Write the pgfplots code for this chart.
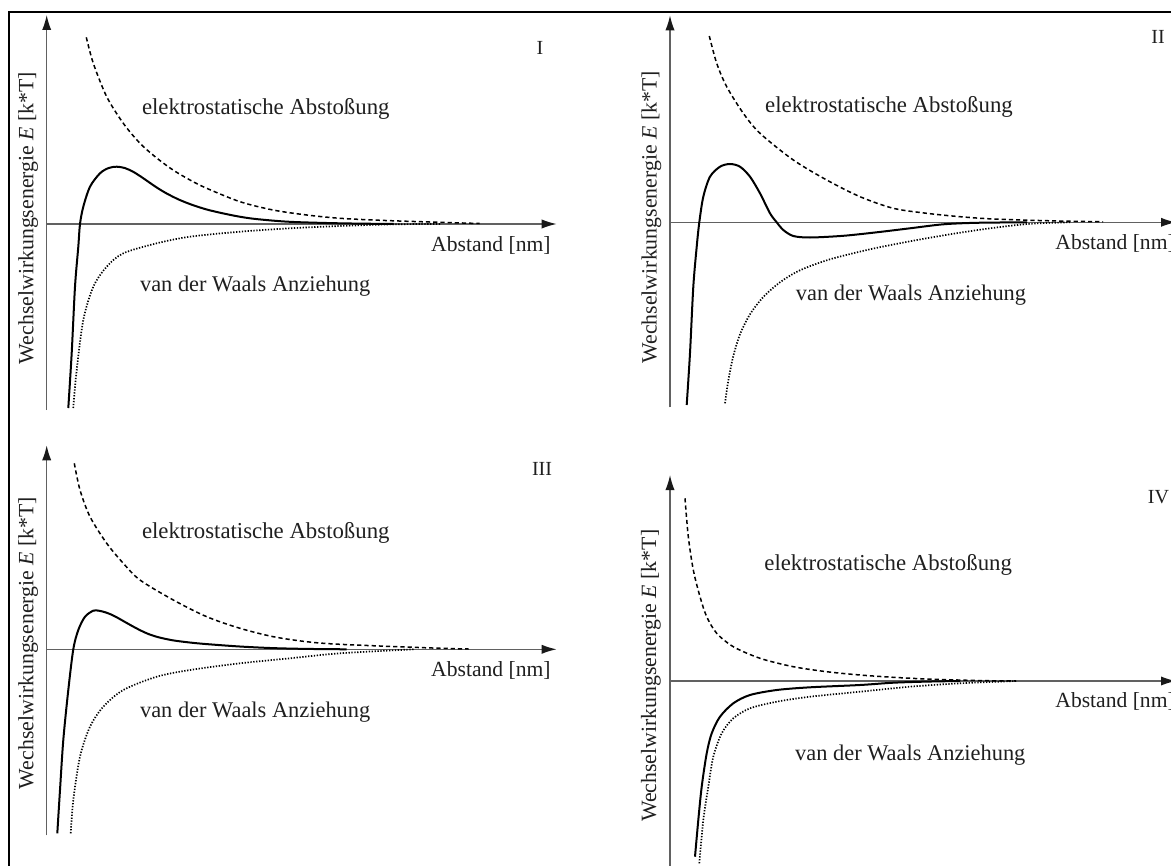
\documentclass[border=0pt]{standalone}
\usepackage{fontspec}
\setmainfont{Liberation Serif}
\usepackage{pgfplots}
\pgfplotsset{compat=1.18}
\usetikzlibrary{arrows.meta}

\pgfplotsset{
  panel/.style={
    x=0.5pt, y=0.5pt,
    axis lines=middle,
    anchor=south west,
    xtick=\empty, ytick=\empty,
    xmin=0,
    clip=false,
    axis line style={draw=black!62, line width=0.65pt,
      -{Latex[length=7.5pt,width=4.6pt,color=black!90]}},
  },
  elek/.style={smooth, black, line width=0.75pt, dash pattern=on 2.1pt off 1.5pt},
  vdw/.style={smooth, black, line width=0.85pt, dash pattern=on 0.65pt off 0.8pt},
  tot/.style={smooth, black, line width=1.0pt},
}
\tikzset{
  lbl/.style={inner sep=0pt, text=black!88},
  elab/.style={lbl, anchor=west, font=\fontsize{11.4}{13}\selectfont},
  vlab/.style={lbl, anchor=west, font=\fontsize{11.2}{13}\selectfont},
  alab/.style={lbl, font=\fontsize{10.8}{13}\selectfont},
  nlab/.style={lbl, font=\fontsize{10}{12}\selectfont},
  ylab/.style={lbl, rotate=90, font=\fontsize{10.9}{13}\selectfont},
}
\newcommand{\ylab}{Wechselwirkungsenergie \textit{E} [k*T]}

\begin{document}
\begin{tikzpicture}
\useasboundingbox (0pt,0pt) rectangle (585.5pt,-433pt);
\clip (0pt,0pt) rectangle (585.5pt,-433pt);
\draw[line width=0.9pt, black] (4.35pt,-5.85pt) rectangle (600pt,-450pt);

% ---------------- Panel I ----------------
\begin{axis}[panel, at={(23.35pt,-205pt)}, xmax=510, ymin=-186, ymax=209]
\addplot[elek] coordinates {(39.6,186.7) (46.6,160.7) (60,127.3) (76.6,100.7) (93.3,80.7) (110,66) (126.3,54) (143.3,44) (160,35.7) (193.3,22.3) (226.3,14) (260,9) (293.3,5.7) (336,3.6) (383,2) (433,0.5)};
\addplot[tot] coordinates {(21.6,-184) (25,-129) (28.3,-62.7) (31.6,-22.7) (33.3,0) (36.6,17.3) (43.3,37.3) (53.3,50.7) (62,56) (70,57.3) (78,56) (86,52.5) (94,47.5) (102,42) (110,36.5) (120,30.5) (132,24.5) (145,19.3) (160,14.5) (176,10.7) (193,7.3) (210,4.9) (243,2.2) (293,0.7) (347,0)};
\addplot[vdw] coordinates {(26.6,-184) (30,-146) (36.6,-96) (46.6,-62.7) (60,-42.7) (76.6,-29.3) (110,-19.3) (143.3,-12.7) (193.3,-7.7) (243.3,-4.3) (293.3,-2) (347,-0.3) (394,0)};
\node[elab] at (axis cs:94.9,115) {elektrostatische Abstoßung};
\node[vlab] at (axis cs:93,-62) {van der Waals Anziehung};
\node[alab, anchor=east] at (axis cs:504.3,-21) {Abstand [nm]};
\node[nlab] at (axis cs:493.3,176.3) {I};
\node[ylab] at (axis cs:-18.5,6) {\ylab};
\end{axis}

% ---------------- Panel II ----------------
\begin{axis}[panel, at={(335pt,-203.65pt)}, xmax=506, ymin=-185, ymax=207]
\addplot[elek] coordinates {(39.3,186.3) (46.7,159) (56.7,135.6) (73.3,109) (90,89) (123.3,62.3) (156.7,42.3) (190,25.6) (223.3,14) (256.7,9) (290,5.6) (323.3,3.3) (380,1.5) (433,0.5)};
\addplot[tot] coordinates {(16.7,-182.7) (20,-130.7) (23.3,-64.4) (26.7,-24.4) (29.3,0) (33.3,25.6) (40,45.6) (50,55.6) (60,58.3) (70,55.6) (80,45.6) (90,29) (100,9) (106.7,0) (113.3,-7.7) (123.3,-13.7) (140,-15.2) (173.3,-13.5) (206.7,-10) (240,-6) (273.3,-2) (306.7,-0.5) (357,0)};
\addplot[vdw] coordinates {(55,-181) (58,-160) (63,-135) (70,-112) (80,-92) (93,-75) (110,-60) (130,-48) (160,-37) (200,-27) (240,-19) (280,-12) (320,-6) (360,-1.5) (400,0)};
\node[elab] at (axis cs:94.8,115.6) {elektrostatische Abstoßung};
\node[vlab] at (axis cs:125.5,-72.7) {van der Waals Anziehung};
\node[alab, anchor=west] at (axis cs:385,-20.7) {Abstand [nm]};
\node[nlab] at (axis cs:488,185.3) {II};
\node[ylab] at (axis cs:-18.5,5) {\ylab};
\end{axis}

% ---------------- Panel III ----------------
\begin{axis}[panel, at={(23.35pt,-417.65pt)}, xmax=510, ymin=-186, ymax=204]
\addplot[elek] coordinates {(27.6,186) (33.3,159.3) (43.3,132.6) (60,106) (76.6,86) (93.3,69.3) (126.6,49.3) (160,32.6) (193.3,21) (226.6,12.6) (260,7.6) (293.3,5) (380,1.5) (422,0.3)};
\addplot[tot] coordinates {(10.6,-184) (13.3,-140.7) (16.6,-90.7) (21.6,-40.7) (26.6,0) (31.6,19.3) (38.3,32.6) (46.6,38.6) (52,38.6) (58,37.2) (64,35) (70,32) (78,27.5) (86,23) (94,18.8) (102,15.2) (112,12) (126,9) (143,6.8) (160,5.2) (193,2.8) (226,1.2) (260,0.4) (300,0)};
\addplot[vdw] coordinates {(24,-184) (26.6,-150.7) (33.3,-107.4) (43.3,-77.4) (56.6,-57.4) (76.6,-40.7) (110,-27.4) (143.3,-20.7) (193.3,-14) (243.3,-9) (293.3,-4) (367,0)};
\node[elab] at (axis cs:94.9,116.3) {elektrostatische Abstoßung};
\node[vlab] at (axis cs:93,-62.4) {van der Waals Anziehung};
\node[alab, anchor=east] at (axis cs:504.3,-20.7) {Abstand [nm]};
\node[nlab] at (axis cs:495.3,180.3) {III};
\node[ylab] at (axis cs:-18.5,6.3) {\ylab};
\end{axis}

% ---------------- Panel IV ----------------
\begin{axis}[panel, at={(335pt,-436.5pt)}, xmax=506, ymin=-192, ymax=206]
\addplot[elek] coordinates {(15,182.7) (18.3,144.3) (23.3,111) (30,84.3) (36.7,64.3) (46.7,47.7) (63.3,34.3) (90,22.7) (123.3,14.3) (156.7,9.3) (190,6) (223.3,3.7) (256.7,2) (306.7,0.5) (346,0)};
\addplot[tot] coordinates {(25,-175.7) (28.3,-139) (31.7,-105.7) (36.7,-72.3) (41.7,-52.3) (50,-35.7) (63.3,-22.3) (80,-14) (106.7,-9) (140,-6.3) (190,-4) (223.3,-1.7) (256.7,-0.6) (290,0)};
\addplot[vdw] coordinates {(29.3,-182.3) (33.3,-139) (38.3,-105.7) (43.3,-75.7) (51.7,-52.3) (63.3,-37.3) (80,-27.3) (106.7,-20.7) (140,-15.7) (190,-10.7) (240,-5.7) (290,-2.3) (346,0)};
\node[elab] at (axis cs:94,116) {elektrostatische Abstoßung};
\node[vlab] at (axis cs:124.8,-74) {van der Waals Anziehung};
\node[alab, anchor=west] at (axis cs:385,-20.7) {Abstand [nm]};
\node[nlab] at (axis cs:488.5,184.3) {IV};
\node[ylab] at (axis cs:-19,5.3) {\ylab};
\end{axis}
\end{tikzpicture}
\end{document}
